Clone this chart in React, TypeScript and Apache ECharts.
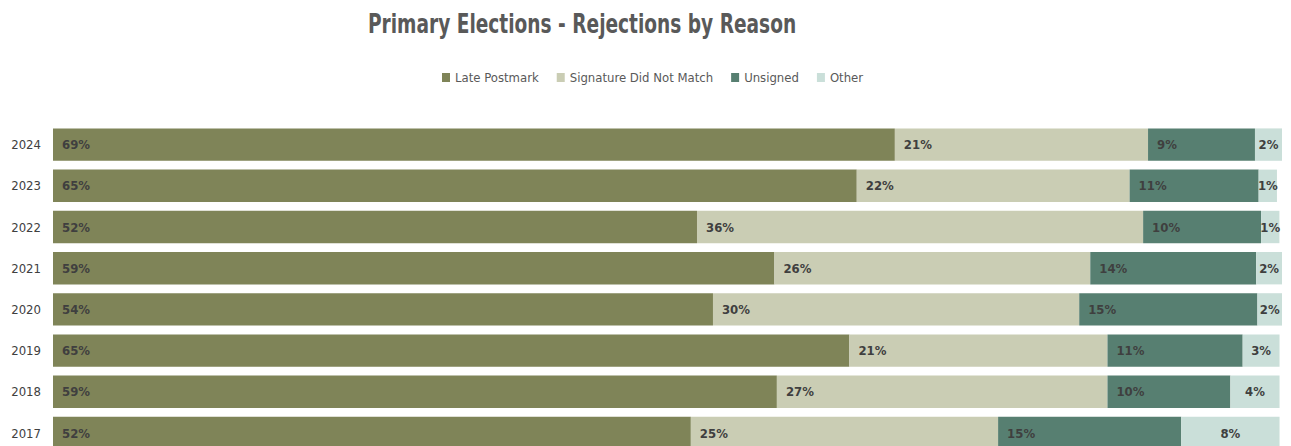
import React, { useEffect, useRef } from "react";
import * as echarts from "echarts";

const years = ["2024", "2023", "2022", "2021", "2020", "2019", "2018", "2017"];
const latePostmark = [68.5, 65.4, 52.4, 58.7, 53.7, 64.8, 58.9, 51.9];
const signatureDidNotMatch = [20.6, 22.2, 36.3, 25.7, 29.8, 21.0, 26.9, 25.0];
const unsigned = [8.7, 10.5, 9.6, 13.5, 14.5, 11.0, 10.0, 14.9];
const other = [2.2, 1.49, 1.49, 2.2, 2.1, 3.0, 4.0, 8.0];

const titleText = "Primary Elections - Rejections by Reason";
const seriesNames = ["Late Postmark", "Signature Did Not Match", "Unsigned", "Other"];
const seriesColors = ["#7f8458", "#cacdb4", "#577f71", "#cadfd9"];

const FONT = "'DejaVu Sans Condensed', 'DejaVu Sans', sans-serif";

export default function App() {
  const ref = useRef<HTMLDivElement>(null);
  useEffect(() => {
    document.body.style.margin = "0";
    document.body.style.overflow = "hidden";
    if (!ref.current) return;
    const chart = echarts.init(ref.current, null, { renderer: "svg" });
    const data = [latePostmark, signatureDidNotMatch, unsigned, other];
    chart.setOption({
      animation: false,
      backgroundColor: "#ffffff",
      graphic: [
        {
          type: "text",
          x: 368,
          y: 11,
          scaleX: 0.765,
          style: {
            text: titleText,
            font: "bold 27px 'DejaVu Sans Condensed', 'DejaVu Sans', sans-serif",
            fill: "#595959",
            textAlign: "left",
            textVerticalAlign: "top",
          },
        },
      ],
      legend: {
        left: 437,
        top: 66,
        icon: "rect",
        itemWidth: 8,
        itemHeight: 9,
        itemGap: 18,
        textStyle: { fontFamily: FONT, fontSize: 13, color: "#595959" },
        data: seriesNames,
      },
      grid: { left: 53, right: 9, top: 124, height: 329.6, containLabel: false },
      xAxis: {
        type: "value",
        min: 0,
        max: 100,
        show: false,
      },
      yAxis: {
        type: "category",
        data: years,
        inverse: true,
        axisLine: { show: false },
        axisTick: { show: false },
        axisLabel: { fontFamily: FONT, fontSize: 13, color: "#404040", margin: 12 },
      },
      series: seriesNames.map((name, i) => ({
        name,
        type: "bar",
        stack: "total",
        barCategoryGap: "21.4%",
        data: data[i],
        itemStyle: { color: seriesColors[i] },
        label: {
          show: true,
          position: i === 3 ? "inside" : "insideLeft",
          distance: 9,
          fontFamily: FONT,
          fontSize: 13,
          fontWeight: "bold",
          color: "#3f3f3f",
          formatter: (p: any) => Math.round(p.value) + "%",
        },
      })),
    });
    return () => chart.dispose();
  }, []);
  return <div ref={ref} style={{ width: 1291, height: 460 }} />;
}
